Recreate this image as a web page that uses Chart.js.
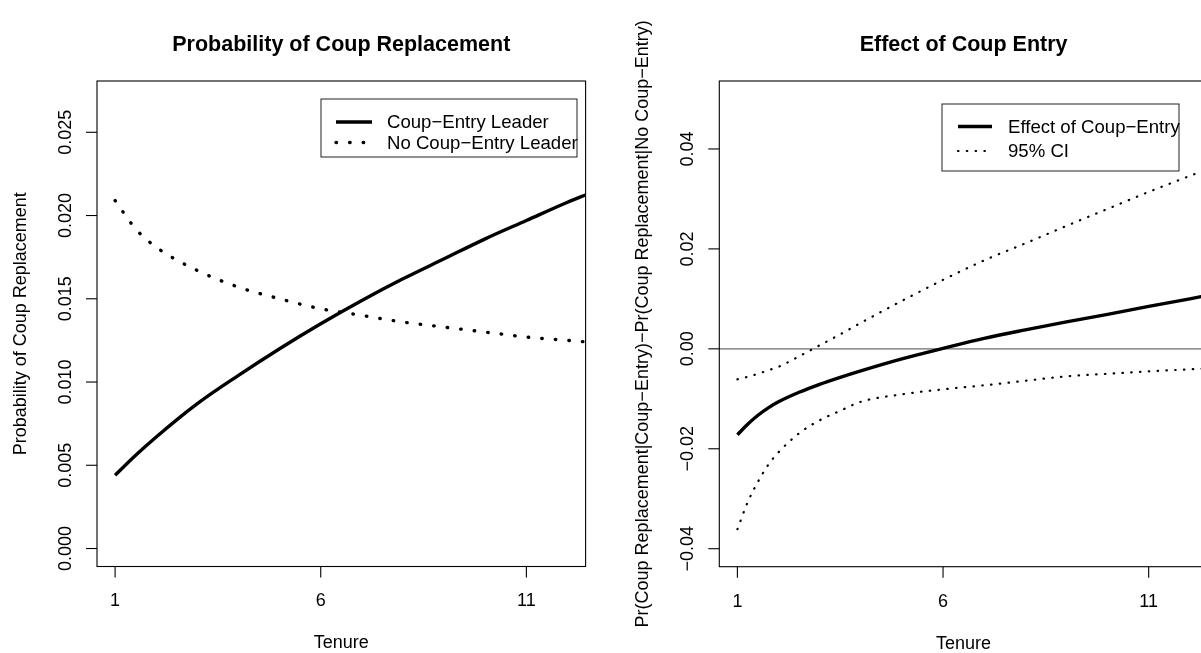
<!DOCTYPE html>
<html>
<head>
<meta charset="utf-8">
<script src="https://cdn.jsdelivr.net/npm/chart.js@4.4.1/dist/chart.umd.min.js"></script>
<style>
  html, body { margin: 0; padding: 0; background: #fff; overflow: hidden; }
  body { width: 1201px; height: 653px; position: relative; }
  canvas { position: absolute; top: 0; }
  #leftChart { left: 0; }
  #rightChart { left: 600px; }
</style>
</head>
<body>
<canvas id="leftChart" width="600" height="653"></canvas>
<canvas id="rightChart" width="620" height="653"></canvas>
<script>
// ---- data ----
// left panel: predicted probability of coup replacement by tenure
var tenureA = [1, 1.5, 2, 3, 4, 5, 6, 7, 8, 9, 10, 11, 12, 12.5];
var coupEntryProb = [0.0044, 0.0056, 0.0067, 0.0087, 0.0104, 0.0120, 0.0135, 0.0149, 0.0162, 0.0174, 0.0186, 0.0197, 0.0208, 0.0213];
var noCoupEntryProb = [0.0209, 0.0192, 0.0181, 0.0167, 0.0157, 0.0150, 0.0144, 0.0140, 0.0136, 0.0133, 0.0130, 0.0127, 0.0125, 0.0124];

// right panel: effect of coup entry with 95% CI
var tenureB = [1, 1.25, 1.5, 1.75, 2, 2.5, 3, 3.5, 4, 5, 6, 7, 8, 9, 10, 11, 12, 12.5];
var effect = [-0.0172, -0.0151, -0.0133, -0.0118, -0.0106, -0.0087, -0.0071, -0.0057, -0.0044, -0.0020, 0.0001, 0.0021, 0.0038, 0.0054, 0.0069, 0.0085, 0.0100, 0.0108];
var ciUpper = [-0.0061, -0.0056, -0.0050, -0.0043, -0.0036, -0.0015, 0.0007, 0.0029, 0.0052, 0.0096, 0.0138, 0.0177, 0.0211, 0.0246, 0.0280, 0.0314, 0.0346, 0.0362];
var ciLower = [-0.0361, -0.0307, -0.0266, -0.0232, -0.0207, -0.0169, -0.0143, -0.0124, -0.0106, -0.0091, -0.0081, -0.0073, -0.0064, -0.0055, -0.0050, -0.0045, -0.0041, -0.0039];

// axis ticks and labels
var xTicks = [1, 6, 11];
var yTicksA = [0, 0.005, 0.010, 0.015, 0.020, 0.025];
var yLabelsA = ["0.000", "0.005", "0.010", "0.015", "0.020", "0.025"];
var yTicksB = [-0.04, -0.02, 0, 0.02, 0.04];
var yLabelsB = ["\u22120.04", "\u22120.02", "0.00", "0.02", "0.04"];
var legendA = ["Coup\u2212Entry Leader", "No Coup\u2212Entry Leader"];
var legendB = ["Effect of Coup\u2212Entry", "95% CI"];

var FONT = '"Liberation Sans", Arial, Helvetica, sans-serif';

function pts(xs, ys) {
    var out = [];
    for (var i = 0; i < xs.length; i++) out.push({x: xs[i], y: ys[i]});
    return out;
}

// dotted line like R lty=3, scaled by line width
function dotted(lw) { return [0.5, lw * 4 - 0.5]; }

function lineSet(label, xs, ys, lw, dots) {
    return {
        label: label,
        data: pts(xs, ys),
        borderColor: '#000',
        borderWidth: lw,
        borderDash: dots ? dotted(lw) : [],
        borderCapStyle: dots ? 'round' : 'butt',
        pointRadius: 0,
        fill: false,
        cubicInterpolationMode: 'monotone',
        clip: 0
    };
}

// draws the R-style frame, ticks, labels, titles and legend
var rFrame = {
    id: 'rframe',
    beforeDatasetsDraw: function(chart, args, o) {
        if (!o.zeroLine) return;
        var ctx = chart.ctx, a = chart.chartArea;
        var py = chart.scales.y.getPixelForValue(0);
        ctx.save();
        ctx.strokeStyle = '#6e6e6e';
        ctx.lineWidth = 1.3;
        ctx.beginPath();
        ctx.moveTo(a.left, py);
        ctx.lineTo(a.right, py);
        ctx.stroke();
        ctx.restore();
    },
    afterDatasetsDraw: function(chart, args, o) {
        var ctx = chart.ctx, a = chart.chartArea;
        var xs = chart.scales.x, ys = chart.scales.y;
        ctx.save();
        ctx.strokeStyle = '#000';
        ctx.fillStyle = '#000';
        ctx.lineWidth = 1.1;
        ctx.strokeRect(a.left, a.top, a.right - a.left, a.bottom - a.top);

        ctx.font = '18px ' + FONT;
        ctx.textAlign = 'center';
        ctx.textBaseline = 'middle';
        o.xTicks.forEach(function(v) {
            var px = xs.getPixelForValue(v);
            ctx.beginPath();
            ctx.moveTo(px, a.bottom);
            ctx.lineTo(px, a.bottom + 11);
            ctx.stroke();
            ctx.fillText(String(v), px, a.bottom + 35);
        });
        o.yTicks.forEach(function(v, i) {
            var py = ys.getPixelForValue(v);
            ctx.beginPath();
            ctx.moveTo(a.left, py);
            ctx.lineTo(a.left - 11, py);
            ctx.stroke();
            ctx.save();
            ctx.translate(a.left - 32, py);
            ctx.rotate(-Math.PI / 2);
            ctx.fillText(o.yLabels[i], 0, 1);
            ctx.restore();
        });

        var cx = (a.left + a.right) / 2, cy = (a.top + a.bottom) / 2;
        ctx.fillText('Tenure', cx, a.bottom + 77);
        ctx.save();
        ctx.translate(a.left - 77, cy);
        ctx.rotate(-Math.PI / 2);
        ctx.fillText(o.ylab, 0, 1);
        ctx.restore();

        ctx.font = 'bold 21.5px ' + FONT;
        ctx.fillText(o.title, cx, 45);

        // legend
        var L = o.legend;
        ctx.lineWidth = 1;
        ctx.strokeStyle = '#222';
        ctx.strokeRect(L.x, L.y, L.w, L.h);
        ctx.font = '18.6px ' + FONT;
        ctx.textAlign = 'left';
        L.labels.forEach(function(lab, i) {
            var ry = L.rows[i];
            ctx.save();
            ctx.strokeStyle = '#000';
            ctx.lineWidth = L.widths[i];
            if (L.dots[i]) {
                ctx.setLineDash(dotted(L.widths[i]));
                ctx.lineCap = 'round';
            }
            ctx.beginPath();
            ctx.moveTo(L.x + L.sx0, ry);
            ctx.lineTo(L.x + L.sx1, ry);
            ctx.stroke();
            ctx.restore();
            ctx.fillText(lab, L.x + L.tx, ry + 1);
        });
        ctx.restore();
    }
};

var xScale = { type: 'linear', display: false, min: 0.56, max: 12.44 };

var leftConfig = {
    type: 'line',
    data: {
        datasets: [
            lineSet(legendA[0], tenureA, coupEntryProb, 3.4, false),
            lineSet(legendA[1], tenureA, noCoupEntryProb, 3.4, true)
        ]
    },
    options: {
        responsive: false,
        animation: false,
        layout: { padding: { left: 97, top: 81, right: 14.4, bottom: 86.5 } },
        scales: {
            x: xScale,
            y: { type: 'linear', display: false, min: -0.00108, max: 0.02808 }
        },
        plugins: {
            legend: { display: false },
            tooltip: { enabled: false },
            rframe: {
                title: 'Probability of Coup Replacement',
                ylab: 'Probability of Coup Replacement',
                xTicks: xTicks,
                yTicks: yTicksA,
                yLabels: yLabelsA,
                zeroLine: false,
                legend: {
                    x: 321, y: 99, w: 256, h: 58,
                    labels: legendA,
                    rows: [122, 142.5],
                    widths: [3.4, 3.4],
                    dots: [false, true],
                    sx0: 15, sx1: 51, tx: 66
                }
            }
        }
    },
    plugins: [rFrame]
};

var rightConfig = {
    type: 'line',
    data: {
        datasets: [
            lineSet(legendB[0], tenureB, effect, 3.4, false),
            lineSet(legendB[1], tenureB, ciUpper, 2.2, true),
            lineSet(legendB[1], tenureB, ciLower, 2.2, true)
        ]
    },
    options: {
        responsive: false,
        animation: false,
        layout: { padding: { left: 119.3, top: 81, right: 12.1, bottom: 86.3 } },
        scales: {
            x: xScale,
            y: { type: 'linear', display: false, min: -0.0436, max: 0.0536 }
        },
        plugins: {
            legend: { display: false },
            tooltip: { enabled: false },
            rframe: {
                title: 'Effect of Coup Entry',
                ylab: 'Pr(Coup Replacement|Coup\u2212Entry)\u2212Pr(Coup Replacement|No Coup\u2212Entry)',
                xTicks: xTicks,
                yTicks: yTicksB,
                yLabels: yLabelsB,
                zeroLine: true,
                legend: {
                    x: 342, y: 104, w: 237, h: 67,
                    labels: legendB,
                    rows: [126.5, 151],
                    widths: [3.4, 2.2],
                    dots: [false, true],
                    sx0: 16, sx1: 50, tx: 66
                }
            }
        }
    },
    plugins: [rFrame]
};

new Chart(document.getElementById('leftChart'), leftConfig);
new Chart(document.getElementById('rightChart'), rightConfig);
</script>
</body>
</html>
